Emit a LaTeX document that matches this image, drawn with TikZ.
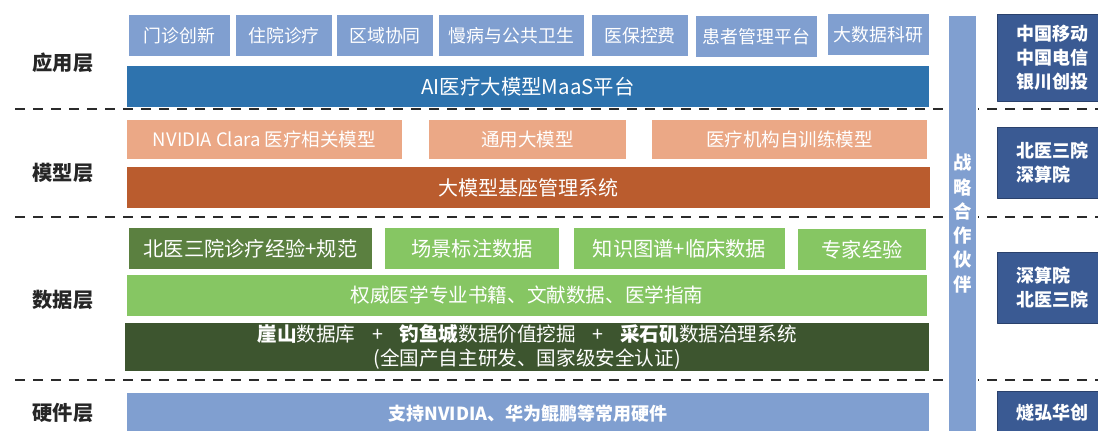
\documentclass[tikz,border=0pt]{standalone}
\usepackage{fontspec}
\setmainfont{Noto Sans CJK SC}
\usetikzlibrary{calc,positioning}
\definecolor{lblue}{HTML}{809FD0}
\definecolor{maasblue}{HTML}{2E73AE}
\definecolor{salmon}{HTML}{EBA886}
\definecolor{rust}{HTML}{BA5C2E}
\definecolor{midgreen}{HTML}{5B8040}
\definecolor{lgreen}{HTML}{86C663}
\definecolor{dgreen}{HTML}{3D552F}
\definecolor{pblue}{HTML}{3A5A93}
\definecolor{pborder}{HTML}{2A416C}
\definecolor{labelgray}{HTML}{262626}
\definecolor{sepgray}{HTML}{2B2B2B}

\begin{document}
\begin{tikzpicture}[x=0.75pt,y=-0.75pt,line join=round,
  blk/.style={inner sep=0pt,outer sep=0pt,anchor=north west,text=white,
    font=\fontsize{13.4}{16}\selectfont},
  layer/.style={font=\fontsize{15.2}{18}\selectfont\bfseries,text=labelgray},
  sep/.style={draw=sepgray,line width=1.5pt,dash pattern=on 7.5pt off 6pt},
  partner/.style={blk,fill=pblue,draw=pborder,line width=0.75pt,
    minimum width=82.5pt,align=left,font=\fontsize{13.5}{18}\selectfont\bfseries}]
\useasboundingbox (0,0) rectangle (1098,430);
\clip (0,0) rectangle (1098,430);
% layer separators
\coordinate (s1l) at (15,109);  \coordinate (s1r) at (1098,109);
\coordinate (s2l) at (15,217);  \coordinate (s2r) at (1098,217);
\coordinate (s3l) at (15,380);  \coordinate (s3r) at (1098,380);
\draw[sep] (s1l)--(s1r) (s2l)--(s2r) (s3l)--(s3r);
% layer names
\node[layer] (yy) at (63,63) {应用层};
\node[layer] (mx) at (63,173) {模型层};
\node[layer] (sj) at (63,300) {数据层};
\node[layer] (yj) at (63,413) {硬件层};
% application layer
\foreach \n/\xa/\xb/\y/\txt in {mz/129/230/15/门诊创新,zy/236/332/15/住院诊疗,qy/337/433/15/区域协同,
  mb/439/584/15/慢病与公共卫生,yb/592/688/15/医保控费,hz/696/817/16/患者管理平台,dsj/828/929/14/大数据科研}
  {\node[blk,fill=lblue,minimum width={(\xb-\xa)*0.75pt},minimum height=30.75pt] (\n) at (\xa,\y) {\txt};}
\node[blk,fill=maasblue,minimum width=601.5pt,minimum height=30.75pt,font=\fontsize{15.3}{18}\selectfont] (maas) at (127,66) {AI医疗大模型MaaS平台};
% model layer
\foreach \n/\xa/\xb/\txt in {nv/127/402/NVIDIA Clara 医疗相关模型,ty/429/626/通用大模型,zx/652/927/医疗机构自训练模型}
  {\node[blk,fill=salmon,minimum width={(\xb-\xa)*0.75pt},minimum height=29.25pt,font=\fontsize{13.9}{16}\selectfont] (\n) at (\xa,120) {\txt};}
\node[blk,fill=rust,minimum width=602.25pt,minimum height=30.75pt,font=\fontsize{15}{18}\selectfont] (jz) at (127,167) {大模型基座管理系统};
% data layer
\foreach \n/\xa/\xb/\y/\c/\txt in {bysy/129/372/228/midgreen/北医三院诊疗经验+规范,cj/385/559/228/lgreen/场景标注数据,
  zs/574/785/228/lgreen/知识图谱+临床数据,zj/798/926/229/lgreen/专家经验}
  {\node[blk,fill=\c,minimum width={(\xb-\xa)*0.75pt},minimum height=30.75pt,font=\fontsize{15.2}{18}\selectfont] (\n) at (\xa,\y) {\txt};}
\node[blk,fill=lgreen,minimum width=600pt,minimum height=30.75pt,font=\fontsize{14.7}{18}\selectfont] (qw) at (127,275) {权威医学专业书籍、文献数据、医学指南};
\node[blk,fill=dgreen,minimum width=603pt,minimum height=36pt,align=center,
  font=\fontsize{14.7}{18.5}\selectfont] (ys) at (125,323)
  {{\bfseries 崖山}数据库\hspace{0.85em}+\hspace{0.85em}{\bfseries 钓鱼城}数据价值挖掘\hspace{0.85em}+\hspace{0.85em}{\bfseries 采石矶}数据治理系统\\(全国产自主研发、国家级安全认证)};
% hardware layer
\node[blk,fill=lblue,minimum width=601.5pt,minimum height=31.5pt,font=\fontsize{13.5}{16}\selectfont\bfseries] (hw) at (127,393) {\raisebox{1.5pt}{支持NVIDIA、华为鲲鹏等常用硬件}};
% strategic partners
\node[blk,fill=lblue,draw=white,line width=1.5pt,minimum width=21.75pt,minimum height=318pt] (zlcol) at (948,15) {};
\node[text=white,align=center,inner sep=0pt,font=\fontsize{13.8}{18.2}\selectfont\bfseries] (zl) at (962.5,223.5) {战\\略\\合\\作\\伙\\伴};
\node[partner,minimum height=65.25pt] (p1) at (997,14) {中国移动\\中国电信\\银川创投};
\node[partner,minimum height=53.25pt] (p2) at (997,127) {北医三院\\深算院};
\node[partner,minimum height=53.25pt] (p3) at (997,252) {深算院\\北医三院};
\node[partner,minimum height=33pt] (p4) at (997,391) {\raisebox{-3pt}{燧弘华创}};
\end{tikzpicture}
\end{document}
